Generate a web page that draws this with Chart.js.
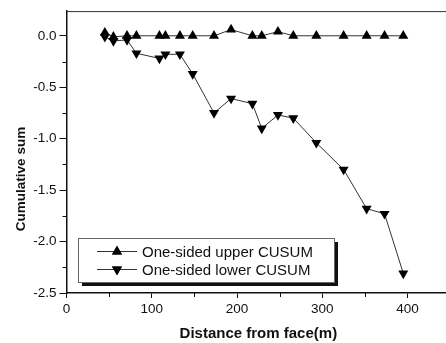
<!DOCTYPE html>
<html>
<head>
<meta charset="utf-8">
<script src="https://cdn.jsdelivr.net/npm/chart.js@4/dist/chart.umd.min.js"></script>
<style>
  html, body { margin: 0; padding: 0; background: #fff; overflow: hidden; }
  canvas { display: block; }
</style>
</head>
<body>
<canvas id="cusumChart" width="456" height="343"></canvas>
<script>
// Data
const distance = [45, 55, 71, 82, 109, 116, 133, 148, 173, 193, 218, 229, 248, 266, 293, 325, 352, 373, 395];
const upperCusum = [0.03, -0.01, 0.0, 0.0, 0.0, 0.0, 0.0, 0.0, 0.0, 0.06, 0.0, 0.0, 0.04, 0.0, 0.0, 0.0, 0.0, 0.0, 0.0];
const lowerCusum = [-0.01, -0.05, -0.04, -0.17, -0.22, -0.18, -0.18, -0.37, -0.75, -0.61, -0.66, -0.90, -0.77, -0.80, -1.04, -1.30, -1.68, -1.73, -2.31];
const seriesLabels = ['One-sided upper CUSUM', 'One-sided lower CUSUM'];

// Axis ticks
const xTicks = [0, 100, 200, 300, 400];
const xMinorTicks = [50, 150, 250, 350];
const yTicks = [0, -0.5, -1.0, -1.5, -2.0, -2.5];
const yMinorTicks = [-0.25, -0.75, -1.25, -1.75, -2.25];

const FONT = 'Arial, "Liberation Sans", sans-serif';
Chart.defaults.font.family = FONT;
Chart.defaults.color = '#111';

function toPoints(xs, ys) {
    return xs.map((x, i) => ({ x: x, y: ys[i] }));
}

// frame on top, minor ticks, y title and the boxed legend
const decorations = {
    id: 'decorations',
    afterDraw(chart) {
        const ctx = chart.ctx;
        const area = chart.chartArea;
        const xs = chart.scales.x;
        const ys = chart.scales.y;
        ctx.save();

        // top border
        ctx.strokeStyle = '#333';
        ctx.lineWidth = 1;
        ctx.beginPath();
        ctx.moveTo(area.left, area.top + 0.5);
        ctx.lineTo(area.right, area.top + 0.5);
        ctx.stroke();

        // minor ticks
        ctx.strokeStyle = '#111';
        ctx.beginPath();
        xMinorTicks.forEach(v => {
            const px = Math.round(xs.getPixelForValue(v)) + 0.5;
            ctx.moveTo(px, area.bottom);
            ctx.lineTo(px, area.bottom + 4);
        });
        yMinorTicks.forEach(v => {
            const py = Math.round(ys.getPixelForValue(v)) + 0.5;
            ctx.moveTo(area.left, py);
            ctx.lineTo(area.left - 4, py);
        });
        ctx.stroke();

        // y axis title
        ctx.fillStyle = '#111';
        ctx.font = 'bold 13.5px ' + FONT;
        ctx.textAlign = 'center';
        ctx.textBaseline = 'middle';
        ctx.translate(21, 179);
        ctx.rotate(-Math.PI / 2);
        ctx.fillText('Cumulative sum', 0, 0);
        ctx.setTransform(1, 0, 0, 1, 0, 0);

        // legend box with shadow
        const bx = 78, by = 238, bw = 256, bh = 44;
        ctx.fillStyle = '#111';
        ctx.fillRect(bx + 4, by + 4, bw, bh);
        ctx.fillStyle = '#fff';
        ctx.fillRect(bx, by, bw, bh);
        ctx.strokeStyle = '#666';
        ctx.lineWidth = 1;
        ctx.strokeRect(bx + 0.5, by + 0.5, bw, bh);

        ctx.font = '15px ' + FONT;
        ctx.textAlign = 'left';
        chart.data.datasets.forEach((ds, i) => {
            const rowY = by + 13.5 + i * 18;
            ctx.strokeStyle = ds.borderColor;
            ctx.lineWidth = ds.borderWidth;
            ctx.beginPath();
            ctx.moveTo(97, rowY);
            ctx.lineTo(137, rowY);
            ctx.stroke();
            ctx.fillStyle = ds.pointBackgroundColor;
            Chart.helpers.drawPoint(ctx, {
                pointStyle: ds.pointStyle,
                radius: ds.pointRadius,
                rotation: ds.pointRotation,
                borderWidth: 0
            }, 117, rowY);
            ctx.fill();
            ctx.fillStyle = '#111';
            ctx.fillText(ds.label, 142, rowY + 1);
        });
        ctx.restore();
    }
};

new Chart(document.getElementById('cusumChart').getContext('2d'), {
    type: 'line',
    data: {
        datasets: [{
            label: seriesLabels[0],
            data: toPoints(distance, upperCusum),
            borderColor: '#333',
            borderWidth: 1,
            pointStyle: 'triangle',
            pointRotation: 0,
            pointRadius: 5.8,
            pointBackgroundColor: '#000',
            pointBorderWidth: 0,
            tension: 0
        }, {
            label: seriesLabels[1],
            data: toPoints(distance, lowerCusum),
            borderColor: '#333',
            borderWidth: 1,
            pointStyle: 'triangle',
            pointRotation: 180,
            pointRadius: 5.8,
            pointBackgroundColor: '#000',
            pointBorderWidth: 0,
            tension: 0
        }]
    },
    options: {
        responsive: false,
        animation: false,
        layout: { padding: { top: 10, right: 2, left: 0, bottom: 0 } },
        plugins: {
            legend: { display: false },
            tooltip: { enabled: false }
        },
        scales: {
            x: {
                type: 'linear',
                min: 0,
                max: 450,
                afterFit: scale => { scale.height = 50; },
                afterBuildTicks: scale => { scale.ticks = xTicks.map(v => ({ value: v })); },
                grid: { drawOnChartArea: false, drawTicks: true, tickLength: 5, color: '#111' },
                border: { color: '#111', width: 1.5 },
                ticks: { font: { size: 13.5 }, padding: 3, maxRotation: 0, color: '#111' },
                title: {
                    display: true,
                    text: 'Distance from face(m)',
                    font: { size: 15, weight: 'bold' },
                    padding: { top: 0, bottom: 0 },
                    color: '#111'
                }
            },
            y: {
                type: 'linear',
                min: -2.5,
                max: 0.24,
                afterFit: scale => { scale.width = 66.5; },
                afterBuildTicks: scale => { scale.ticks = yTicks.map(v => ({ value: v })); },
                grid: { drawOnChartArea: false, drawTicks: true, tickLength: 7, color: '#111' },
                border: { color: '#111', width: 1.5 },
                ticks: {
                    font: { size: 13.5 },
                    padding: 3,
                    color: '#111',
                    callback: v => v.toFixed(1)
                }
            }
        }
    },
    plugins: [decorations]
});
</script>
</body>
</html>
